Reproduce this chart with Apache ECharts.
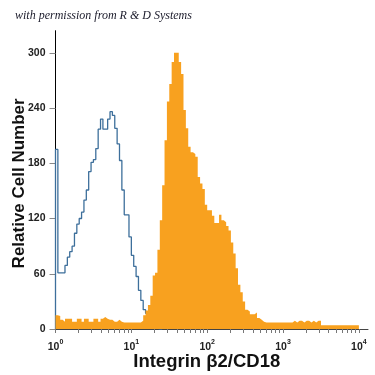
<!DOCTYPE html>
<html><head><meta charset="utf-8">
<script src="https://cdn.jsdelivr.net/npm/echarts@6/dist/echarts.min.js"></script>
<style>html,body{margin:0;padding:0;background:#fff}#c{width:375px;height:375px}</style>
</head><body><div id="c"></div>
<script>
// Log-scale decades shown on the x axis (10^n)
const decades = [0, 1, 2, 3, 4];
// Y tick values
const yTicks = [0, 60, 120, 180, 240, 300];
// Channel bins: 128 bins spanning 4 decades
const binWidth = 4 / 128;
// Isotype control (blue outline) counts per bin, starting at 10^0
const isotypeCounts = [
  195, 61, 61, 61, 69, 78, 84, 90, 104, 114,
  120, 127, 140, 151, 171, 181, 184, 196, 217, 228,
  217, 217, 228, 236, 232, 218, 201, 183, 151, 124,
  124, 100, 80, 68, 57, 42, 31, 21, 17, 12,
  6, 3, 1, 0, 0
];
// Integrin beta2/CD18 stained (orange filled) counts per bin
const integrinCounts = [
  15, 14, 10, 8, 11, 11, 11, 8, 8, 11,
  11, 8, 11, 11, 8, 8, 11, 11, 8, 11,
  13, 11, 10, 10, 8, 8, 10, 8, 7, 7,
  7, 7, 7, 7, 7, 7, 9, 15, 20, 26,
  36, 58, 61, 86, 118, 156, 205, 247, 266, 290,
  300, 300, 290, 277, 238, 218, 198, 192, 190, 187,
  165, 158, 152, 135, 129, 129, 123, 115, 115, 124,
  118, 116, 112, 107, 94, 82, 66, 48, 40, 30,
  21, 19, 16, 16, 18, 12, 10, 8, 7, 7,
  7, 7, 7, 7, 7, 7, 7, 7, 7, 7,
  9, 7, 9, 9, 7, 9, 9, 7, 9, 7,
  9, 9, 4, 4, 4, 4, 4, 4, 4, 4,
  4, 4, 4, 4, 4, 4, 4, 4
];

function stepData(counts) {
  const d = [[0, 0]];
  counts.forEach((v, i) => d.push([i * binWidth, v]));
  d.push([counts.length * binWidth, 0]);
  return d;
}
const xTickValues = [];
decades.forEach(n => {
  if (n < 4) { for (let m = 1; m <= 9; m++) xTickValues.push(n + Math.log10(m)); }
  else xTickValues.push(n);
});

const chart = echarts.init(document.getElementById('c'), null, {renderer: 'canvas'});
const titleFont = "'Liberation Sans', Arial, sans-serif";
const labelFont = "'Liberation Sans', Arial, sans-serif";
chart.setOption({
  animation: false,
  backgroundColor: '#fff',
  title: {
    text: 'with permission from R & D Systems',
    left: 10, top: 5,
    textStyle: {fontFamily: "'Liberation Serif', 'DejaVu Serif', serif", fontStyle: 'italic', fontWeight: 'normal', fontSize: 12, color: '#1a1a2a'}
  },
  grid: {left: 55.5, right: 7, top: 30.7, bottom: 46, outerBoundsMode: 'none'},
  xAxis: {
    type: 'value', min: 0, max: 4.12,
    name: 'Integrin β2/CD18', nameLocation: 'middle', nameGap: 23, nameMoveOverlap: false,
    nameTextStyle: {fontFamily: titleFont, fontWeight: 'bold', fontSize: 18.5, color: '#111', padding: [0, 10, 0, 0]},
    axisLine: {lineStyle: {color: '#444', width: 1}},
    axisTick: {customValues: xTickValues, length: 4, lineStyle: {color: '#777'}},
    splitLine: {show: false},
    axisLabel: {
      customValues: decades, margin: 10,
      formatter: v => '{b|10}{s|' + v + '}',
      rich: {
        b: {fontFamily: labelFont, fontWeight: 'bold', fontSize: 10.5, color: '#222', lineHeight: 14, verticalAlign: 'bottom'},
        s: {fontFamily: labelFont, fontWeight: 'bold', fontSize: 7, color: '#222', lineHeight: 8, verticalAlign: 'top'}
      }
    }
  },
  yAxis: {
    type: 'value', min: 0, max: 324,
    name: 'Relative Cell Number', nameLocation: 'middle', nameGap: 28, nameMoveOverlap: false,
    nameTextStyle: {fontFamily: titleFont, fontWeight: 'bold', fontSize: 17, color: '#111', padding: [0, 7, 0, 0]},
    axisLine: {show: true, lineStyle: {color: '#000', width: 1}},
    axisTick: {show: true, customValues: yTicks, length: 6, lineStyle: {color: '#888'}},
    splitLine: {show: false},
    axisLabel: {customValues: yTicks, margin: 10, fontFamily: labelFont, fontWeight: 'bold', fontSize: 10.5, color: '#222'}
  },
  series: [
    {
      type: 'line', step: 'end', symbol: 'none', z: 2,
      data: stepData(isotypeCounts),
      lineStyle: {color: '#3d6f9b', width: 1.3}
    },
    {
      type: 'line', step: 'end', symbol: 'none', z: 3,
      data: stepData(integrinCounts),
      lineStyle: {width: 0, color: '#f8a11f'},
      areaStyle: {color: '#f8a11f', opacity: 1}
    }
  ]
});
</script></body></html>
